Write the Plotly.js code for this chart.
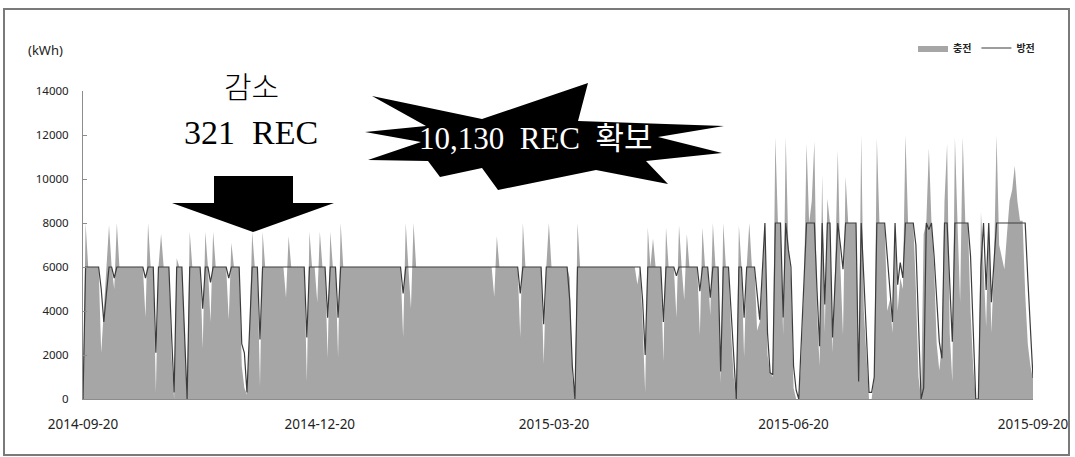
<!DOCTYPE html>
<html>
<head>
<meta charset="utf-8">
<script src="https://cdn.plot.ly/plotly-3.0.1.min.js"></script>
<style>
  html, body { margin: 0; padding: 0; background: #fff; }
  #chart { width: 1075px; height: 457px; }
</style>
</head>
<body>
<div id="chart"></div>
<script>
// Daily ESS energy, 2014-09-20 .. 2015-09-20 (kWh)
const startDate = '2014-09-20';
const tickDates = ['2014-09-20', '2014-12-20', '2015-03-20', '2015-06-20', '2015-09-20'];
const yTicks = [0, 2000, 4000, 6000, 8000, 10000, 12000, 14000];
const seriesNames = ['충전', '방전'];

// 충전 (charge)
const charge = [
  0, 8000, 6000, 6000, 6000, 6000, 6000, 2100, 4000, 6000,
  7900, 6000, 5000, 8000, 6000, 6000, 6000, 6000, 6000, 6000,
  6000, 6000, 6000, 6000, 3700, 8000, 6000, 6000, 300, 6000,
  7500, 6000, 6000, 6000, 2000, 0, 6400, 6000, 6000, 2500,
  0, 7600, 6000, 6000, 6000, 6000, 2300, 7600, 6000, 3500,
  7600, 6000, 6000, 6000, 6000, 6000, 3600, 7100, 6000, 6000,
  6000, 1500, 500, 200, 3000, 7600, 6000, 6000, 550, 7600,
  6000, 6000, 6000, 6000, 6000, 6000, 6000, 6000, 4600, 7400,
  6000, 6000, 6000, 6000, 6000, 6000, 800, 7600, 6000, 6000,
  4400, 7600, 6000, 6000, 1850, 7600, 6000, 6000, 1900, 8000,
  6000, 6000, 6000, 6000, 6000, 6000, 6000, 6000, 6000, 6000,
  6000, 6000, 6000, 6000, 6000, 6000, 6000, 6000, 6000, 6000,
  6000, 6000, 6000, 2800, 8000, 6000, 4100, 8000, 6000, 6000,
  6000, 6000, 6000, 6000, 6000, 6000, 6000, 6000, 6000, 6000,
  6000, 6000, 6000, 6000, 6000, 6000, 6000, 6000, 6000, 6000,
  6000, 6000, 6000, 6000, 6000, 6000, 6000, 6000, 4650, 7400,
  6000, 6000, 6000, 6000, 6000, 6000, 6000, 6000, 2800, 8000,
  6000, 6000, 6000, 6000, 6000, 6000, 6000, 1600, 6000, 8000,
  6000, 6000, 6000, 6000, 6000, 6000, 6000, 5500, 1000, 0,
  8000, 6000, 6000, 6000, 6000, 6000, 6000, 6000, 6000, 6000,
  6000, 6000, 6000, 6000, 6000, 6000, 6000, 6000, 6000, 6000,
  6000, 6000, 6000, 5200, 6000, 3500, 300, 7800, 6000, 7300,
  6000, 6000, 6000, 1700, 7800, 6000, 6000, 6000, 3700, 7900,
  6000, 4500, 7500, 6000, 6000, 6000, 6000, 2900, 7800, 6000,
  6000, 3800, 8000, 6000, 6000, 700, 8000, 6000, 6000, 3000,
  1000, 0, 7900, 6000, 1900, 6000, 8000, 6000, 6000, 3100,
  3500, 5500, 8000, 2000, 1200, 1000, 11900, 8000, 8000, 2900,
  11900, 7000, 5500, 500, 0, 0, 2000, 5000, 11600, 8000,
  9000, 11700, 4000, 1500, 10200, 3000, 9100, 8000, 2100, 6000,
  11300, 6000, 2900, 10100, 8000, 8000, 8000, 8000, 800, 12000,
  4000, 2000, 0, 0, 1000, 11850, 8000, 8000, 8000, 4000,
  4500, 3000, 8000, 4000, 5500, 5000, 12000, 8000, 8000, 8000,
  5000, 1000, 0, 7500, 8000, 11400, 8000, 6000, 2500, 1300,
  2500, 9000, 11600, 3000, 800, 11900, 8000, 4400, 11900, 8000,
  8000, 4000, 1500, 0, 0, 8500, 6000, 3300, 8000, 3000,
  6000, 12000, 7000, 6500, 5900, 7500, 9000, 9500, 10600, 9000,
  8100, 8100, 4800, 2500, 1500, 900
];

// 방전 (discharge)
const discharge = [
  0, 6000, 6000, 6000, 6000, 6000, 6000, 5000, 3500, 4800,
  6000, 6000, 5500, 6000, 6000, 6000, 6000, 6000, 6000, 6000,
  6000, 6000, 6000, 6000, 5500, 6000, 6000, 6000, 2100, 6000,
  6000, 6000, 6000, 6000, 3000, 300, 6000, 6000, 6000, 3000,
  0, 6000, 6000, 6000, 6000, 6000, 4100, 6000, 6000, 5300,
  6000, 6000, 6000, 6000, 6000, 6000, 5500, 6000, 6000, 6000,
  6000, 2500, 2100, 300, 3500, 6000, 6000, 6000, 2700, 6000,
  6000, 6000, 6000, 6000, 6000, 6000, 6000, 6000, 6000, 6000,
  6000, 6000, 6000, 6000, 6000, 6000, 2800, 6000, 6000, 6000,
  6000, 6000, 6000, 6000, 3700, 6000, 6000, 6000, 3700, 6000,
  6000, 6000, 6000, 6000, 6000, 6000, 6000, 6000, 6000, 6000,
  6000, 6000, 6000, 6000, 6000, 6000, 6000, 6000, 6000, 6000,
  6000, 6000, 6000, 4800, 6000, 6000, 6000, 6000, 6000, 6000,
  6000, 6000, 6000, 6000, 6000, 6000, 6000, 6000, 6000, 6000,
  6000, 6000, 6000, 6000, 6000, 6000, 6000, 6000, 6000, 6000,
  6000, 6000, 6000, 6000, 6000, 6000, 6000, 6000, 6000, 6000,
  6000, 6000, 6000, 6000, 6000, 6000, 6000, 6000, 4800, 6000,
  6000, 6000, 6000, 6000, 6000, 6000, 6000, 3400, 6000, 6000,
  6000, 6000, 6000, 6000, 6000, 6000, 6000, 4500, 1500, 0,
  6000, 6000, 6000, 6000, 6000, 6000, 6000, 6000, 6000, 6000,
  6000, 6000, 6000, 6000, 6000, 6000, 6000, 6000, 6000, 6000,
  6000, 6000, 6000, 6000, 6000, 4500, 2000, 6000, 6000, 6000,
  6000, 6000, 6000, 3500, 6000, 6000, 6000, 6000, 5600, 6000,
  6000, 6000, 6000, 6000, 6000, 6000, 6000, 4900, 6000, 6000,
  6000, 4600, 6000, 6000, 6000, 1250, 6000, 6000, 6000, 4000,
  2000, 0, 6000, 6000, 3700, 6000, 6000, 6000, 6000, 4800,
  3600, 5800, 8000, 3000, 1200, 1100, 8000, 8000, 8000, 3700,
  8000, 6800, 6000, 1500, 400, 0, 2500, 5500, 8000, 8000,
  8000, 8000, 5000, 2400, 8000, 4300, 8000, 8000, 2800, 5500,
  8000, 7000, 5900, 8000, 8000, 8000, 8000, 8000, 800, 8000,
  5500, 3000, 300, 300, 1000, 8000, 8000, 8000, 8000, 6500,
  5000, 3500, 8000, 5200, 6200, 5500, 8000, 8000, 8000, 8000,
  7000, 3500, 0, 500, 8000, 7700, 8000, 6500, 4500, 2600,
  1850, 8000, 8000, 5000, 2600, 8000, 8000, 8000, 8000, 8000,
  8000, 6500, 3000, 0, 0, 6000, 8000, 4950, 8000, 4400,
  6200, 8000, 8000, 8000, 8000, 8000, 8000, 8000, 8000, 8000,
  8000, 8000, 8000, 5500, 3000, 950
];

// one calendar day per value
const dates = charge.map((_, i) => {
  const d = new Date(startDate + 'T00:00:00Z');
  d.setUTCDate(d.getUTCDate() + i);
  return d.toISOString().slice(0, 10);
});

// plot-area box in page pixels, used to place decorations
const W = 1075, H = 457;
const PL = 83, PR = 1033, PT = 91, PB = 399;
const px = x => (x - PL) / (PR - PL);
const py = y => (PB - y) / (PB - PT);
const pathFrom = pts => 'M ' + pts.map(p => px(p[0]) + ',' + py(p[1])).join(' L ') + ' Z';

const arrowPts = [[214,176],[293,176],[293,203],[334,203],[253,232],[172,203],[214,203]];
const starPts = [
  [372,96],[482,119],[588,83],[578,121],[724,126],[658,137],
  [722,153],[646,161],[668,184],[596,170],[498,190],[482,168],[440,177],[428,161],
  [368,160],[421,142],[365,132],[426,126]
];

const traces = [
  {
    x: dates, y: charge, name: seriesNames[0], type: 'scatter', mode: 'lines',
    fill: 'tozeroy', fillcolor: '#a6a6a6', line: { width: 0, color: '#a6a6a6' },
    hoverinfo: 'x+y'
  },
  {
    x: dates, y: discharge, name: seriesNames[1], type: 'scatter', mode: 'lines',
    line: { width: 1.2, color: '#3c3c3c' }, hoverinfo: 'x+y'
  }
];

const serif = 'Liberation Serif, Noto Sans CJK KR, serif';

const layout = {
  width: W, height: H,
  margin: { l: PL, r: W - PR, t: PT, b: H - PB, pad: 0 },
  paper_bgcolor: '#fff', plot_bgcolor: '#fff',
  showlegend: true,
  legend: {
    orientation: 'h', x: px(1040), xanchor: 'right', y: py(48), yanchor: 'middle',
    font: { family: 'Noto Sans CJK KR, sans-serif', size: 10, color: '#222', weight: 700 },
    itemwidth: 30, bgcolor: 'rgba(0,0,0,0)', traceorder: 'normal'
  },
  xaxis: {
    type: 'date', range: [tickDates[0], tickDates[tickDates.length - 1]],
    tickvals: tickDates, ticktext: tickDates,
    tickfont: { family: 'Noto Sans, sans-serif', size: 13.5, color: '#222' },
    ticklabelstandoff: 13,
    showgrid: false, zeroline: false, showline: true, linecolor: '#8c8c8c', linewidth: 1,
    ticks: '', fixedrange: true
  },
  yaxis: {
    range: [0, 14000], tickvals: yTicks, ticktext: yTicks.map(String),
    tickfont: { family: 'Noto Sans, sans-serif', size: 11.5, color: '#222' },
    ticklabelstandoff: 11,
    showgrid: false, zeroline: false, showline: true, linecolor: '#8c8c8c', linewidth: 1,
    ticks: 'inside', ticklen: 4, tickcolor: '#8c8c8c', fixedrange: true
  },
  shapes: [
    { type: 'rect', xref: 'paper', yref: 'paper', x0: px(4), x1: px(1069), y0: py(455), y1: py(9),
      line: { color: '#7a7a7a', width: 2 }, fillcolor: 'rgba(0,0,0,0)' },
    { type: 'path', xref: 'paper', yref: 'paper', path: pathFrom(arrowPts),
      fillcolor: '#000', line: { width: 0 } },
    { type: 'path', xref: 'paper', yref: 'paper', path: pathFrom(starPts),
      fillcolor: '#000', line: { width: 0 } }
  ],
  annotations: [
    { xref: 'paper', yref: 'paper', x: px(45), y: py(50), xanchor: 'center', yanchor: 'middle',
      text: '(kWh)', showarrow: false,
      font: { family: 'Noto Sans, sans-serif', size: 13, color: '#222' } },
    { xref: 'paper', yref: 'paper', x: px(251), y: py(88), xanchor: 'center', yanchor: 'middle',
      text: '감소', showarrow: false, font: { family: serif, size: 30, color: '#000', weight: 300 } },
    { xref: 'paper', yref: 'paper', x: px(251), y: py(132), xanchor: 'center', yanchor: 'middle',
      text: '321  REC', showarrow: false, font: { family: serif, size: 34, color: '#000' } },
    { xref: 'paper', yref: 'paper', x: px(536), y: py(138), xanchor: 'center', yanchor: 'middle',
      text: '10,130  REC  확보', showarrow: false, font: { family: serif, size: 31, color: '#fff' } }
  ]
};

Plotly.newPlot('chart', traces, layout, { displayModeBar: false, staticPlot: true });
</script>
</body>
</html>
